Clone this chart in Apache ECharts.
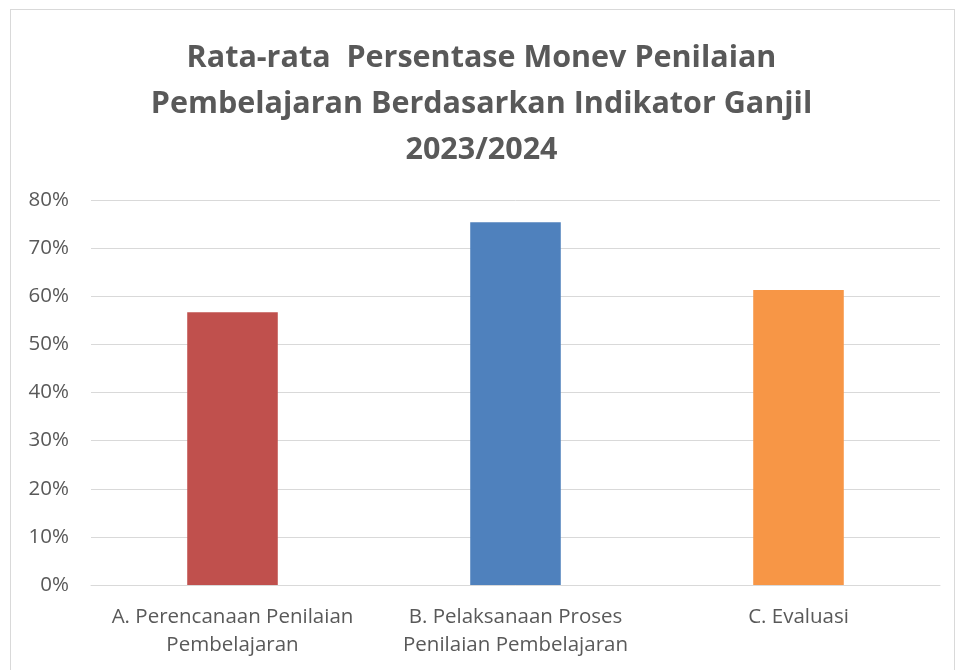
<!DOCTYPE html>
<html>
<head>
<meta charset="utf-8">
<script src="https://cdn.jsdelivr.net/npm/echarts@6/dist/echarts.min.js"></script>
<style>
  html, body { margin: 0; padding: 0; background: #fff; }
  #frame { position: absolute; left: 10px; top: 9px; width: 945px; height: 670px; border: 1px solid #d9d9d9; box-sizing: border-box; }
  #chart { position: absolute; left: 0; top: 0; width: 963px; height: 670px; }
</style>
</head>
<body>
<div id="frame"></div>
<div id="chart"></div>
<script>
// data
const titleText = "Rata-rata  Persentase Monev Penilaian\nPembelajaran Berdasarkan Indikator Ganjil\n2023/2024";
const categories = [
  "A. Perencanaan Penilaian\nPembelajaran",
  "B. Pelaksanaan Proses\nPenilaian Pembelajaran",
  "C. Evaluasi"
];
const values = [56.7, 75.4, 61.3];
const barColors = ["#C0504D", "#4F81BD", "#F79646"];

const chart = echarts.init(document.getElementById("chart"));
chart.setOption({
  animation: false,
  title: {
    text: titleText,
    left: "center",
    top: 30,
    textStyle: {
      color: "#595959",
      fontFamily: "Open Sans",
      fontWeight: "bold",
      fontSize: 30.5,
      lineHeight: 46
    }
  },
  grid: {
    left: 91,
    right: 23,
    top: 200,
    bottom: 85,
    containLabel: false
  },
  xAxis: {
    type: "category",
    data: categories,
    axisLine: { lineStyle: { color: "#d9d9d9", width: 1 } },
    axisTick: { show: false },
    axisLabel: {
      color: "#595959",
      fontFamily: "Open Sans",
      fontSize: 20.5,
      lineHeight: 28,
      margin: 18,
      interval: 0
    }
  },
  yAxis: {
    type: "value",
    min: 0,
    max: 80,
    interval: 10,
    axisLine: { show: false },
    axisTick: { show: false },
    splitLine: { lineStyle: { color: "#d9d9d9", width: 1 } },
    axisLabel: {
      color: "#595959",
      fontFamily: "Open Sans",
      fontSize: 20.5,
      margin: 22,
      formatter: v => v + "%"
    }
  },
  series: [{
    type: "bar",
    barWidth: "32%",
    data: values.map((v, i) => ({ value: v, itemStyle: { color: barColors[i] } }))
  }]
});
</script>
</body>
</html>
